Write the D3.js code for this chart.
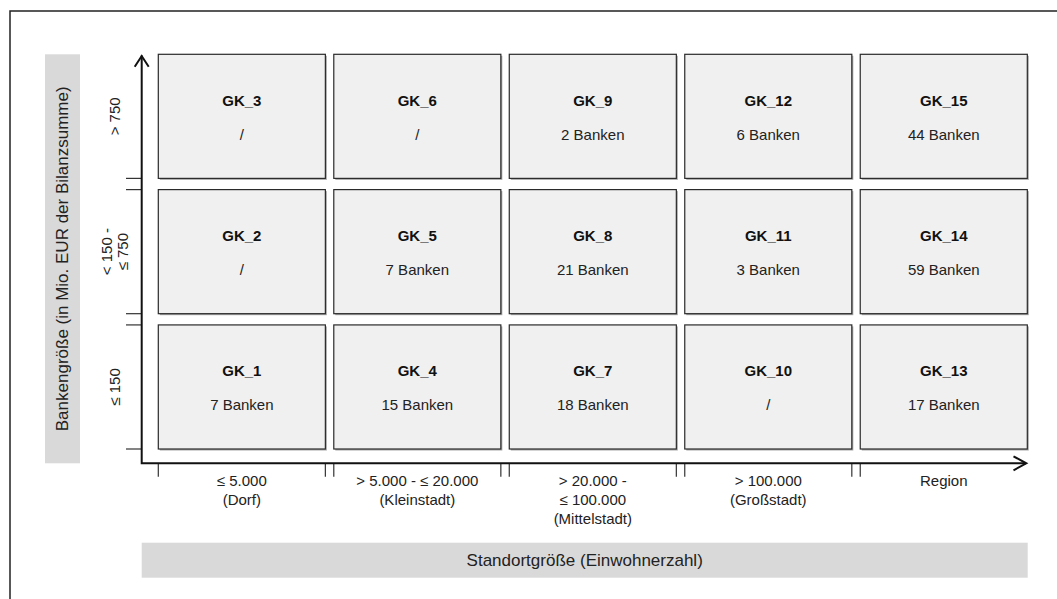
<!DOCTYPE html>
<html><head><meta charset="utf-8">
<script src="https://cdn.jsdelivr.net/npm/d3@7"></script>
<style>body{margin:0;background:#fff}svg{display:block;font-family:"Liberation Sans",Arial,sans-serif}</style>
</head><body><svg id="c" width="1057" height="599"></svg>
<script>
// ---- data ----
const columns = ["c1","c2","c3","c4","c5"];
const columnLabels = [["≤ 5.000","(Dorf)"],["> 5.000 - ≤ 20.000","(Kleinstadt)"],["> 20.000 -","≤ 100.000","(Mittelstadt)"],["> 100.000","(Großstadt)"],["Region"]];
const rows = ["r3","r2","r1"]; // top to bottom
const rowLabels = [["> 750"],["< 150 -","≤ 750"],["≤ 150"]];
const cellNamesTop = ["GK_3","GK_6","GK_9","GK_12","GK_15"];
const cellNamesMid = ["GK_2","GK_5","GK_8","GK_11","GK_14"];
const cellNamesLow = ["GK_1","GK_4","GK_7","GK_10","GK_13"];
const banksTop = [null,null,2,6,44];
const banksMid = [null,7,21,3,59];
const banksLow = [7,15,18,null,17];
const xTitle = "Standortgröße (Einwohnerzahl)";
const yTitle = "Bankengröße (in Mio. EUR der Bilanzsumme)";

const names = [cellNamesTop, cellNamesMid, cellNamesLow];
const banks = [banksTop, banksMid, banksLow];
const cells = [];
rows.forEach((r, ri) => columns.forEach((c, ci) => cells.push({r, c, name: names[ri][ci], n: banks[ri][ci]})));

const svg = d3.select("#c");
const x = d3.scaleBand().domain(columns).range([158.3, 1027.3]).paddingInner(0.048).paddingOuter(0);
const y = d3.scaleBand().domain(rows).range([54.3, 449]).paddingInner(0.083).paddingOuter(0);
const bw = x.bandwidth(), bh = y.bandwidth();
const axX = 141.7, axY = 463.3;

// outer frame (only top & left visible)
svg.append("rect").attr("x",10).attr("y",11).attr("width",1200).attr("height",800)
  .attr("fill","none").attr("stroke","#222").attr("stroke-width",1.5);

// y title box
svg.append("rect").attr("x",45).attr("y",54.3).attr("width",35).attr("height",axY-54.3).attr("fill","#d9d9d9");
svg.append("text").attr("transform",`translate(62.5,${(54.3+axY)/2}) rotate(-90)`)
  .attr("text-anchor","middle").attr("dominant-baseline","central").attr("font-size",17).attr("fill","#222").text(yTitle);

// x title box
svg.append("rect").attr("x",axX).attr("y",542.7).attr("width",1027.7-axX).attr("height",35).attr("fill","#d9d9d9");
svg.append("text").attr("x",(axX+1027.7)/2).attr("y",560.2)
  .attr("text-anchor","middle").attr("dominant-baseline","central").attr("font-size",17).attr("fill","#222").text(xTitle);

// cells
const g = svg.append("g").selectAll("g").data(cells).join("g")
  .attr("transform", d => `translate(${x(d.c)},${y(d.r)})`);
g.append("rect").attr("x",1.5).attr("y",1.5).attr("width",bw).attr("height",bh).attr("fill","#a8a8a8");
g.append("rect").attr("width",bw).attr("height",bh).attr("fill","#f0f0f0").attr("stroke","#2a2a2a").attr("stroke-width",1.2);
g.append("text").attr("x",bw/2).attr("y",bh/2-10.5).attr("text-anchor","middle")
  .attr("font-size",15).attr("font-weight","bold").attr("fill","#111").text(d => d.name);
g.append("text").attr("x",bw/2).attr("y",bh/2+23.5).attr("text-anchor","middle")
  .attr("font-size",15).attr("fill","#222").text(d => d.n == null ? "/" : d.n + " Banken");

// y ticks
const yTicks = [];
rows.forEach((r,i) => { if (i>0) yTicks.push(y(r)); yTicks.push(y(r)+bh); });
svg.append("g").selectAll("line").data(yTicks).join("line")
  .attr("x1",126).attr("x2",axX).attr("y1",d=>d).attr("y2",d=>d).attr("stroke","#333").attr("stroke-width",1.2);
// x ticks
const xTicks = [];
columns.forEach((c,i) => { xTicks.push(x(c)); if (i<columns.length-1) xTicks.push(x(c)+bw); });
svg.append("g").selectAll("line").data(xTicks).join("line")
  .attr("x1",d=>d).attr("x2",d=>d).attr("y1",axY).attr("y2",476.7).attr("stroke","#333").attr("stroke-width",1.2);

// axes with arrows
const ax = svg.append("g").attr("fill","none").attr("stroke","#111").attr("stroke-width",2);
ax.append("path").attr("d",`M${axX},55.5 V${axY} H1026`);
ax.append("path").attr("d",`M${axX-7},66.7 L${axX},56 L${axX+7},66.7`);
ax.append("path").attr("d",`M1013.5,456.3 L1026.3,${axY} L1013.5,470.3`);

// y labels
svg.append("g").selectAll("text").data(rows).join("text")
  .attr("font-size",15).attr("fill","#222").attr("text-anchor","middle")
  .attr("transform",(r)=>`translate(114,${y(r)+bh/2}) rotate(-90)`)
  .each(function(r,i){
    const lines = rowLabels[i];
    d3.select(this).selectAll("tspan").data(lines).join("tspan")
      .attr("x",0).attr("y",(l,j)=> (j-(lines.length-1)/2)*16 + 5.5).text(l=>l);
  });

// x labels
svg.append("g").selectAll("text").data(columns).join("text")
  .attr("font-size",15).attr("fill","#222").attr("text-anchor","middle")
  .attr("transform",c=>`translate(${x(c)+bw/2},486)`)
  .each(function(c,i){
    d3.select(this).selectAll("tspan").data(columnLabels[i]).join("tspan")
      .attr("x",0).attr("y",(l,j)=>j*19).text(l=>l);
  });
</script></body></html>
